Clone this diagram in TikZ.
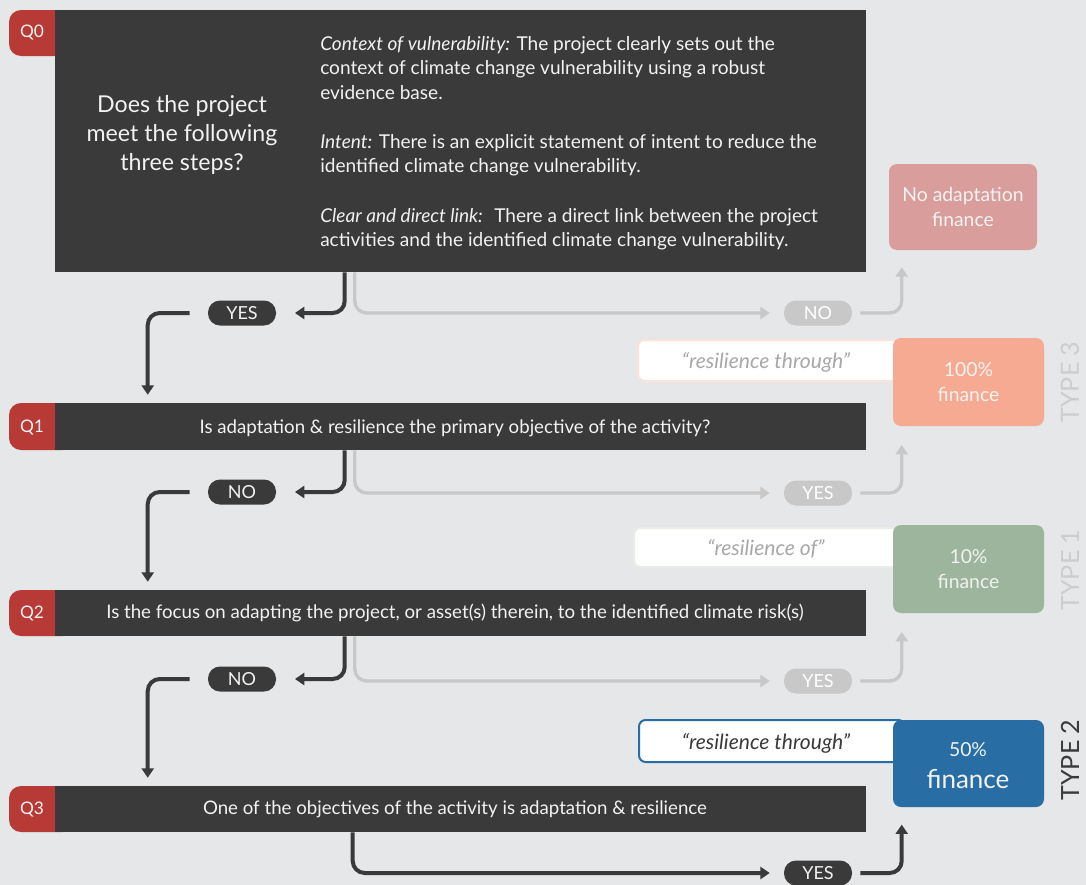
\documentclass[tikz,border=0pt]{standalone}
\usepackage{fontspec}
\setmainfont{Lato}
\usetikzlibrary{arrows.meta,calc,fit}
\definecolor{bg}{HTML}{E6E7E8}
\definecolor{ink}{HTML}{3A3A3A}
\definecolor{tabred}{HTML}{B73A37}
\definecolor{pale}{HTML}{C8C8C8}
\definecolor{rose}{HTML}{D99D9B}
\definecolor{salmon}{HTML}{F7AA92}
\definecolor{sage}{HTML}{9CB59C}
\definecolor{steel}{HTML}{286DA4}
\definecolor{txt}{HTML}{F2F2F2}
\definecolor{quotegray}{HTML}{A8A8A8}
\definecolor{typegray}{HTML}{CDCDCD}
\definecolor{pinkedge}{HTML}{FBE3DB}
\definecolor{greenedge}{HTML}{E8EDE6}
\begin{document}
\begin{tikzpicture}[x=0.75pt,y=-0.75pt,
  bar/.style={fill=ink,draw=none,inner sep=0pt},
  tab/.style={fill=tabred,draw=none,inner sep=0pt,rounded corners=9pt},
  tabtext/.style={text=txt,font=\fontsize{13}{15}\selectfont},
  qtext/.style={text=txt,font=\fontsize{14}{16}\selectfont},
  pill/.style={minimum width=51pt,minimum height=18.75pt,rounded corners=9pt,inner sep=0pt,
    text=txt,font=\fontsize{13.5}{15}\selectfont},
  darkpill/.style={pill,fill=ink},
  palepill/.style={pill,fill=pale,text=white},
  result/.style={draw=none,inner sep=0pt,rounded corners=6pt},
  restext/.style={text=txt,align=center,font=\fontsize{14.5}{18.75}\selectfont},
  quotebox/.style={fill=white,inner sep=0pt,rounded corners=5pt,line width=1.5pt},
  quotetext/.style={font=\itshape\fontsize{15.8}{18}\selectfont},
  typetext/.style={rotate=90,font=\fontsize{18.8}{20}\selectfont},
  darkline/.style={draw=ink,line width=3pt,rounded corners=9pt,-{Triangle[width=9pt,length=7pt]}},
  paleline/.style={draw=pale,line width=2.5pt,rounded corners=9pt,-{Triangle[width=9pt,length=7pt]}},
]
% canvas
\fill[bg] (0,0) rectangle (1086,885);
\useasboundingbox (0,0) rectangle (1086,885);

% ---------- Q0 ----------
\node[tab,fit={(9,10)(75,56)}] (t0) {};
\node[bar,fit={(55,10)(866,272)}] (q0) {};
\node[tabtext] at (32,33) {Q0};
\node[text=txt,align=center,font=\fontsize{17.4}{21.75}\selectfont] (q0a) at (182,135)
  {Does the project\\meet the following\\three steps?};
\node[text=txt,align=left,anchor=north west,inner sep=0pt,font=\fontsize{14.3}{18.4}\selectfont] (q0b) at (320,36)
  {\textit{Context of vulnerability:} The project clearly sets out the\\
   context of climate change vulnerability using a robust\\
   evidence base.\\[18.4pt]
   \textit{Intent:} There is an explicit statement of intent to reduce the\\
   identified climate change vulnerability.\\[18.4pt]
   \textit{Clear and direct link:}~ There a direct link between the project\\
   activities and the identified climate change vulnerability.};

% ---------- outcome boxes ----------
\node[result,fill=rose,fit={(889,164)(1037,250)}] (r0) {};
\node[restext] at (r0.center) {No adaptation\\finance};

\node[quotebox,draw=pinkedge,fit={(638,340)(905,381)}] (qt1) {};
\node[quotetext,text=quotegray] at (766,362) {“resilience through”};
\node[result,fill=salmon,fit={(893,338)(1044,426)}] (r1) {};
\node[restext] at (r1.center) {100\%\\finance};
\node[typetext,text=typegray] at (1070,382) {TYPE 3};

\node[quotebox,draw=greenedge,fit={(634,528)(905,567)}] (qt2) {};
\node[quotetext,text=quotegray] at (766,549) {“resilience of”};
\node[result,fill=sage,fit={(893,525)(1044,613)}] (r2) {};
\node[restext] at (r2.center) {10\%\\finance};
\node[typetext,text=typegray] at (1070,570) {TYPE 1};

\node[quotebox,draw=steel,fit={(639,720)(905,762)}] (qt3) {};
\node[quotetext,text=ink] at (766,743) {“resilience through”};
\node[result,fill=steel,fit={(893,720)(1044,807)}] (r3) {};
\node[text=txt,font=\fontsize{14.5}{16}\selectfont] (r3a) at (968,750) {50\%};
\node[text=txt,font=\fontsize{19.5}{22}\selectfont] (r3b) at (968,779) {finance};
\node[typetext,text=ink] at (1070,760) {TYPE 2};

% ---------- Q1 ----------
\node[tab,fit={(9,403)(75,450)}] (t1) {};
\node[bar,fit={(55,403)(866,450)}] (q1) {};
\node[tabtext] at (32,427) {Q1};
\node[qtext] at (455,428) {Is adaptation \& resilience the primary objective of the activity?};

% ---------- Q2 ----------
\node[tab,fit={(9,590)(75,636)}] (t2) {};
\node[bar,fit={(55,590)(866,636)}] (q2) {};
\node[tabtext] at (32,613) {Q2};
\node[qtext] at (455,613) {Is the focus on adapting the project, or asset(s) therein, to the identified climate risk(s)};

% ---------- Q3 ----------
\node[tab,fit={(9,786)(75,832)}] (t3) {};
\node[bar,fit={(55,786)(866,832)}] (q3) {};
\node[tabtext] at (32,809) {Q3};
\node[qtext] at (455,809) {One of the objectives of the activity is adaptation \& resilience};

% ---------- answer pills ----------
\node[darkpill] (yes0) at (242,313) {YES};
\node[palepill] (no0) at (818,313) {NO};
\node[darkpill] (no1) at (242,492) {NO};
\node[palepill] (yes1) at (818,493) {YES};
\node[darkpill] (no2) at (242,679) {NO};
\node[palepill] (yes2) at (818,681) {YES};
\node[darkpill] (yes3) at (818,873) {YES};

% ---------- connectors ----------
% Q0
\draw[darkline,shorten >=14pt] ($(q0.south west)+(290,0)$) |- (yes0.east);
\draw[darkline,shorten <=13.5pt,shorten >=6pt] (yes0.west) -| ($(q1.north west)+(93,0)$);
\draw[paleline,shorten >=10.5pt] ($(q0.south west)+(300,0)$) |- (no0.west);
\draw[paleline,shorten <=6pt,shorten >=12.75pt] (no0.east) -| ($(r0.south west)+(13,0)$);
% Q1
\draw[darkline,shorten >=14pt] ($(q1.south west)+(290,0)$) |- (no1.east);
\draw[darkline,shorten <=13.5pt,shorten >=6pt] (no1.west) -| ($(q2.north west)+(93,0)$);
\draw[paleline,shorten >=10.5pt] ($(q1.south west)+(300,0)$) |- (yes1.west);
\draw[paleline,shorten <=6pt,shorten >=14pt] (yes1.east) -| ($(r1.south west)+(9,0)$);
% Q2
\draw[darkline,shorten >=14pt] ($(q2.south west)+(290,0)$) |- (no2.east);
\draw[darkline,shorten <=13.5pt,shorten >=6pt] (no2.west) -| ($(q3.north west)+(93,0)$);
\draw[paleline,shorten >=10.5pt] ($(q2.south west)+(300,0)$) |- (yes2.west);
\draw[paleline,shorten <=6pt,shorten >=14pt] (yes2.east) -| ($(r2.south west)+(9,0)$);
% Q3
\draw[darkline,shorten >=10.5pt] ($(q3.south west)+(298,0)$) |- (yes3.west);
\draw[darkline,shorten <=6pt,shorten >=13pt] (yes3.east) -| ($(r3.south west)+(9,0)$);
\end{tikzpicture}
\end{document}
